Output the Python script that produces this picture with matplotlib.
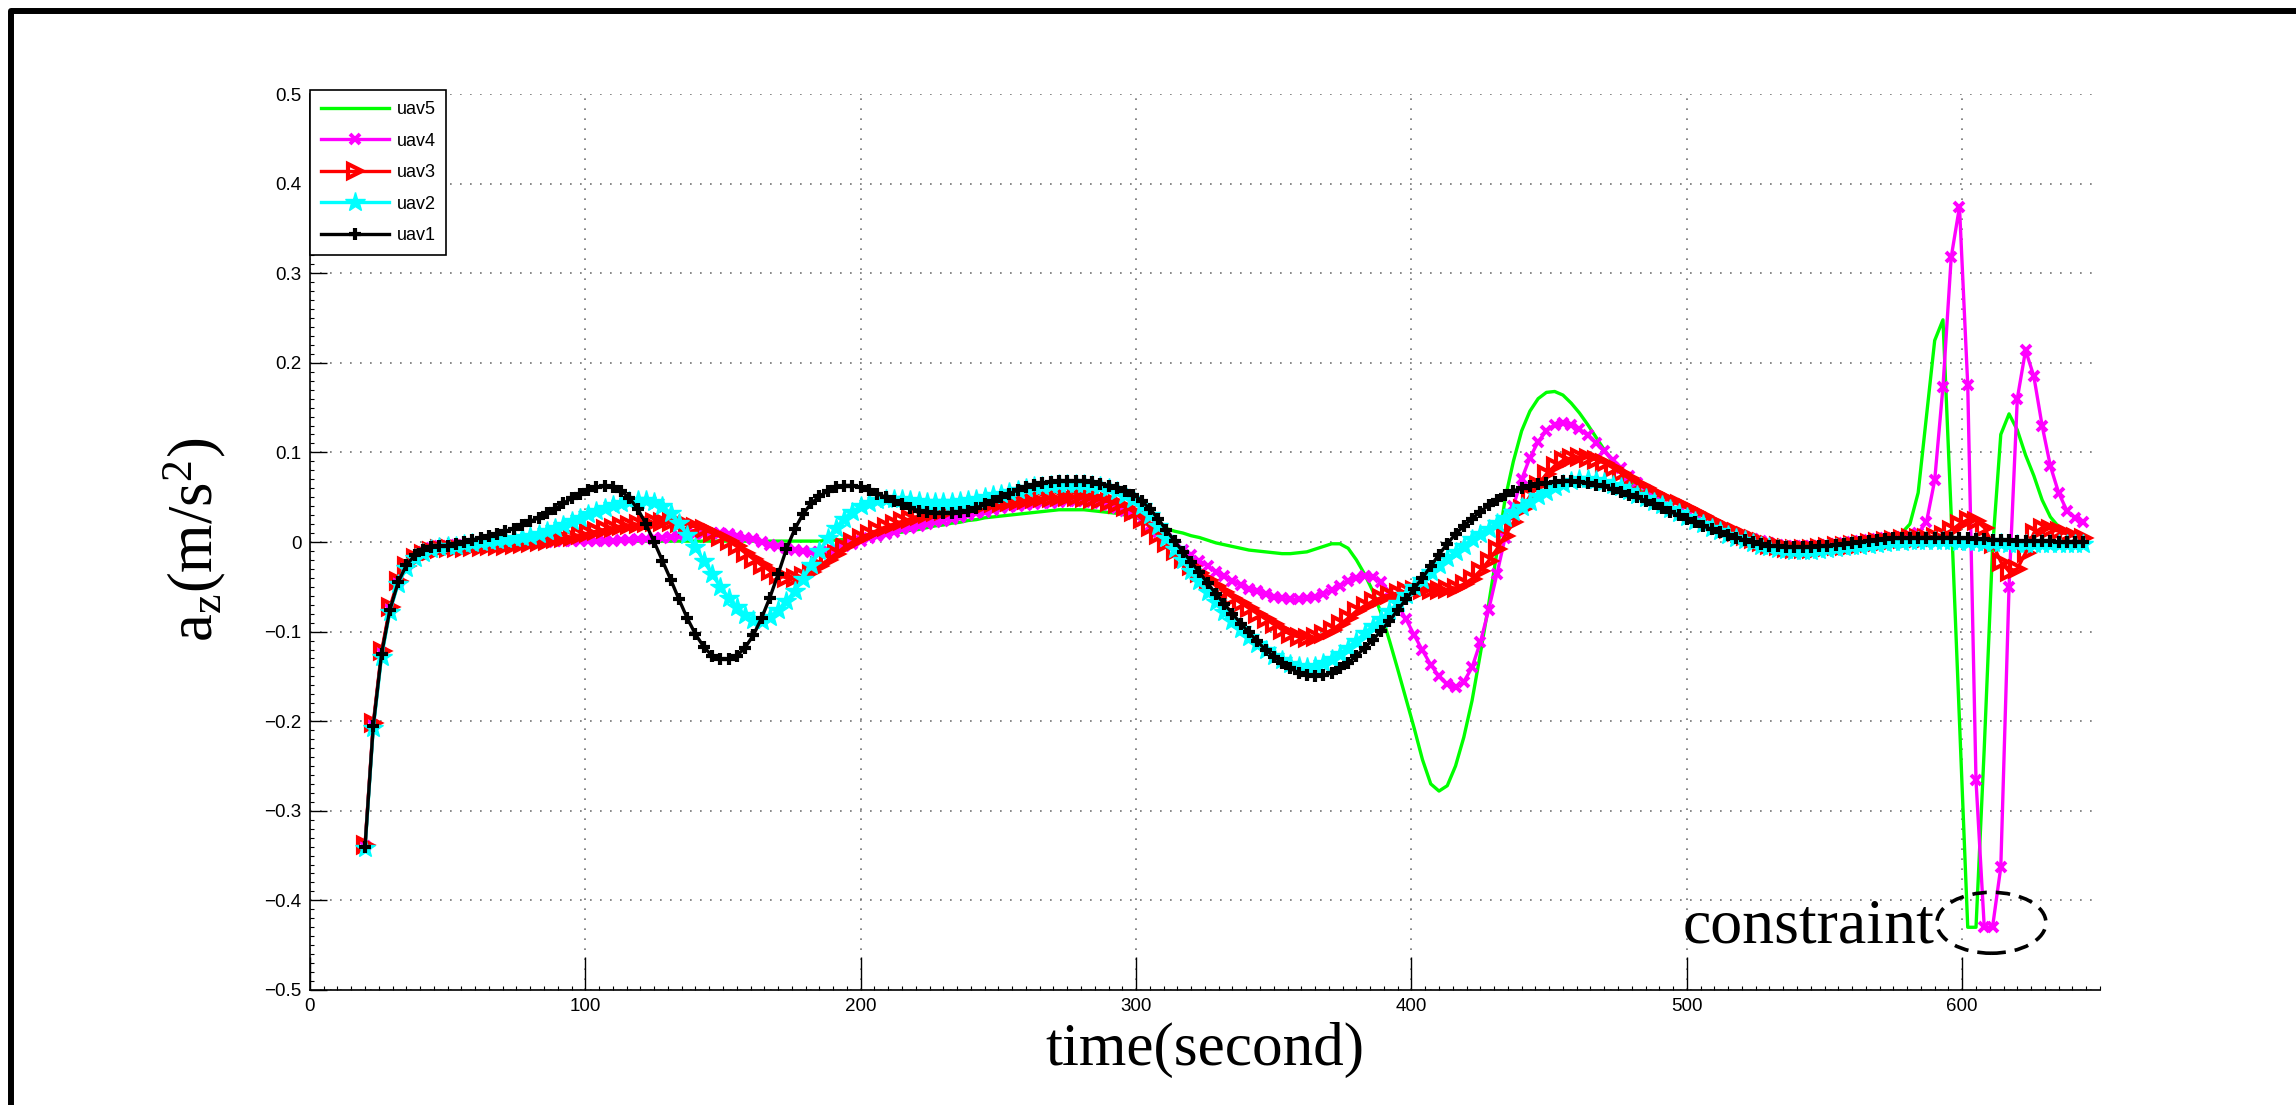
import numpy as np
import matplotlib
matplotlib.use("Agg")
import matplotlib.pyplot as plt
from matplotlib.patches import Ellipse
from matplotlib.lines import Line2D
from matplotlib.ticker import MultipleLocator, FixedLocator

plt.rcParams['font.family'] = ['Liberation Sans', 'DejaVu Sans']
plt.rcParams['mathtext.fontset'] = 'custom'
plt.rcParams['mathtext.rm'] = 'Liberation Serif'
plt.rcParams['mathtext.it'] = 'Liberation Serif:italic'

# sample times (s), one sample every 3 s
t = np.arange(20, 645, 3)

uav1 = [
    -0.340, -0.205, -0.125, -0.076, -0.045, -0.026, -0.015, -0.009, -0.006, -0.004,
    -0.004, -0.002, 0.000, 0.002, 0.005, 0.007, 0.009, 0.012, 0.015, 0.019,
    0.023, 0.027, 0.032, 0.037, 0.043, 0.049, 0.054, 0.058, 0.061, 0.062,
    0.061, 0.057, 0.049, 0.037, 0.020, 0.000, -0.021, -0.042, -0.064, -0.085,
    -0.103, -0.117, -0.127, -0.131, -0.131, -0.127, -0.118, -0.104, -0.085, -0.062,
    -0.036, -0.008, 0.014, 0.031, 0.043, 0.051, 0.057, 0.061, 0.063, 0.063,
    0.061, 0.058, 0.054, 0.050, 0.046, 0.042, 0.038, 0.035, 0.033, 0.032,
    0.032, 0.032, 0.033, 0.035, 0.038, 0.042, 0.046, 0.050, 0.054, 0.058,
    0.061, 0.064, 0.066, 0.067, 0.068, 0.068, 0.068, 0.068, 0.067, 0.065,
    0.063, 0.060, 0.057, 0.053, 0.046, 0.037, 0.026, 0.013, 0.001, -0.011,
    -0.022, -0.034, -0.046, -0.058, -0.069, -0.080, -0.091, -0.101, -0.111, -0.120,
    -0.128, -0.135, -0.141, -0.146, -0.149, -0.150, -0.149, -0.146, -0.141, -0.135,
    -0.127, -0.118, -0.109, -0.099, -0.088, -0.076, -0.064, -0.052, -0.040, -0.027,
    -0.014, -0.002, 0.009, 0.018, 0.026, 0.034, 0.041, 0.047, 0.052, 0.057,
    0.060, 0.063, 0.065, 0.066, 0.067, 0.068, 0.068, 0.067, 0.066, 0.064,
    0.062, 0.059, 0.056, 0.053, 0.050, 0.046, 0.042, 0.038, 0.034, 0.030,
    0.026, 0.022, 0.018, 0.014, 0.011, 0.008, 0.005, 0.002, 0.000, -0.002,
    -0.004, -0.005, -0.006, -0.006, -0.006, -0.006, -0.005, -0.004, -0.003, -0.002,
    -0.001, 0.000, 0.001, 0.002, 0.003, 0.004, 0.004, 0.005, 0.005, 0.005,
    0.005, 0.005, 0.005, 0.004, 0.004, 0.003, 0.003, 0.002, 0.002, 0.002,
    0.001, 0.001, 0.001, 0.001, 0.001, 0.000, 0.000, 0.000, 0.000,
]

uav2 = [
    -0.342, -0.208, -0.128, -0.078, -0.047, -0.029, -0.018, -0.012, -0.008, -0.006,
    -0.005, -0.004, -0.002, -0.001, 0.000, 0.001, 0.002, 0.003, 0.004, 0.006,
    0.007, 0.009, 0.012, 0.016, 0.019, 0.023, 0.027, 0.031, 0.035, 0.038,
    0.041, 0.044, 0.046, 0.047, 0.047, 0.045, 0.040, 0.032, 0.021, 0.008,
    -0.006, -0.021, -0.036, -0.050, -0.062, -0.073, -0.082, -0.087, -0.088, -0.084,
    -0.076, -0.066, -0.055, -0.041, -0.026, -0.010, 0.004, 0.016, 0.026, 0.034,
    0.040, 0.044, 0.047, 0.048, 0.048, 0.048, 0.047, 0.046, 0.045, 0.045,
    0.045, 0.045, 0.046, 0.047, 0.048, 0.050, 0.052, 0.054, 0.056, 0.058,
    0.060, 0.062, 0.063, 0.064, 0.065, 0.065, 0.065, 0.065, 0.064, 0.062,
    0.060, 0.057, 0.053, 0.048, 0.040, 0.030, 0.018, 0.005, -0.008, -0.020,
    -0.032, -0.044, -0.056, -0.067, -0.078, -0.088, -0.097, -0.106, -0.114, -0.121,
    -0.127, -0.132, -0.136, -0.138, -0.139, -0.138, -0.135, -0.131, -0.125, -0.118,
    -0.110, -0.102, -0.094, -0.086, -0.077, -0.068, -0.059, -0.050, -0.042, -0.034,
    -0.026, -0.018, -0.011, -0.004, 0.003, 0.009, 0.015, 0.021, 0.027, 0.033,
    0.039, 0.045, 0.051, 0.056, 0.061, 0.065, 0.068, 0.070, 0.070, 0.069,
    0.067, 0.064, 0.061, 0.057, 0.053, 0.049, 0.045, 0.041, 0.037, 0.032,
    0.028, 0.024, 0.020, 0.016, 0.012, 0.008, 0.005, 0.002, -0.001, -0.004,
    -0.006, -0.008, -0.009, -0.010, -0.010, -0.010, -0.009, -0.008, -0.007, -0.006,
    -0.005, -0.004, -0.003, -0.002, -0.001, 0.000, 0.000, 0.001, 0.001, 0.001,
    0.001, 0.001, 0.001, 0.000, 0.000, 0.000, -0.001, -0.001, -0.001, -0.002,
    -0.002, -0.002, -0.002, -0.002, -0.002, -0.002, -0.002, -0.002, -0.002,
]

uav3 = [
    -0.338, -0.202, -0.122, -0.073, -0.043, -0.027, -0.018, -0.013, -0.010, -0.008,
    -0.007, -0.007, -0.007, -0.006, -0.006, -0.005, -0.005, -0.004, -0.003, -0.002,
    -0.001, 0.000, 0.001, 0.003, 0.004, 0.006, 0.008, 0.010, 0.012, 0.014,
    0.016, 0.018, 0.019, 0.020, 0.021, 0.022, 0.022, 0.022, 0.021, 0.019,
    0.017, 0.014, 0.010, 0.006, 0.001, -0.005, -0.012, -0.019, -0.026, -0.032,
    -0.037, -0.040, -0.040, -0.038, -0.033, -0.027, -0.020, -0.013, -0.006, 0.000,
    0.005, 0.009, 0.013, 0.017, 0.020, 0.023, 0.026, 0.029, 0.031, 0.033,
    0.035, 0.037, 0.039, 0.040, 0.041, 0.042, 0.043, 0.044, 0.045, 0.046,
    0.047, 0.048, 0.049, 0.049, 0.050, 0.050, 0.050, 0.049, 0.048, 0.047,
    0.045, 0.042, 0.039, 0.034, 0.026, 0.017, 0.008, -0.001, -0.010, -0.019,
    -0.027, -0.035, -0.042, -0.049, -0.056, -0.062, -0.068, -0.074, -0.080, -0.086,
    -0.092, -0.098, -0.103, -0.106, -0.107, -0.106, -0.103, -0.098, -0.092, -0.085,
    -0.077, -0.071, -0.066, -0.062, -0.059, -0.057, -0.055, -0.054, -0.054, -0.054,
    -0.054, -0.053, -0.051, -0.047, -0.041, -0.032, -0.021, -0.008, 0.007, 0.022,
    0.037, 0.051, 0.064, 0.076, 0.085, 0.091, 0.094, 0.095, 0.094, 0.092,
    0.088, 0.083, 0.077, 0.071, 0.065, 0.060, 0.055, 0.050, 0.046, 0.042,
    0.038, 0.033, 0.029, 0.024, 0.019, 0.015, 0.011, 0.007, 0.003, 0.000,
    -0.003, -0.005, -0.007, -0.008, -0.008, -0.008, -0.007, -0.006, -0.005, -0.004,
    -0.003, -0.002, -0.001, 0.000, 0.001, 0.002, 0.003, 0.004, 0.004, 0.005,
    0.006, 0.008, 0.013, 0.020, 0.025, 0.024, 0.016, -0.002, -0.022, -0.033,
    -0.030, -0.012, 0.010, 0.016, 0.015, 0.012, 0.009, 0.006, 0.004,
]

uav4 = [
    -0.339, -0.204, -0.124, -0.075, -0.045, -0.027, -0.017, -0.011, -0.007, -0.005,
    -0.004, -0.003, -0.003, -0.002, -0.002, -0.001, -0.001, 0.000, 0.000, 0.000,
    0.000, 0.000, 0.000, 0.001, 0.001, 0.001, 0.001, 0.001, 0.001, 0.001,
    0.001, 0.002, 0.002, 0.003, 0.003, 0.004, 0.005, 0.006, 0.007, 0.008,
    0.009, 0.010, 0.010, 0.010, 0.009, 0.007, 0.005, 0.003, 0.000, -0.003,
    -0.005, -0.007, -0.009, -0.010, -0.011, -0.011, -0.010, -0.008, -0.005, -0.002,
    0.001, 0.004, 0.007, 0.009, 0.011, 0.014, 0.016, 0.018, 0.020, 0.022,
    0.024, 0.026, 0.028, 0.030, 0.032, 0.034, 0.036, 0.038, 0.039, 0.040,
    0.041, 0.042, 0.043, 0.044, 0.045, 0.046, 0.046, 0.046, 0.045, 0.043,
    0.041, 0.038, 0.035, 0.031, 0.025, 0.018, 0.011, 0.004, -0.003, -0.009,
    -0.015, -0.021, -0.027, -0.033, -0.038, -0.043, -0.048, -0.052, -0.055, -0.058,
    -0.061, -0.063, -0.064, -0.064, -0.063, -0.061, -0.058, -0.054, -0.049, -0.044,
    -0.040, -0.038, -0.039, -0.045, -0.056, -0.070, -0.086, -0.104, -0.121, -0.137,
    -0.150, -0.159, -0.162, -0.156, -0.140, -0.112, -0.076, -0.036, 0.005, 0.040,
    0.070, 0.094, 0.112, 0.124, 0.131, 0.133, 0.131, 0.126, 0.119, 0.111,
    0.102, 0.092, 0.083, 0.074, 0.066, 0.058, 0.051, 0.045, 0.039, 0.034,
    0.030, 0.026, 0.022, 0.018, 0.015, 0.012, 0.009, 0.006, 0.003, 0.001,
    -0.001, -0.003, -0.004, -0.005, -0.005, -0.005, -0.004, -0.003, -0.002, -0.001,
    0.000, 0.001, 0.002, 0.003, 0.004, 0.005, 0.006, 0.007, 0.010, 0.022,
    0.069, 0.173, 0.318, 0.374, 0.175, -0.266, -0.430, -0.430, -0.363, -0.050,
    0.160, 0.214, 0.185, 0.130, 0.085, 0.055, 0.035, 0.027, 0.022,
]

uav5 = [
    -0.340, -0.205, -0.125, -0.076, -0.045, -0.027, -0.016, -0.010, -0.006, -0.004,
    -0.003, -0.002, -0.002, -0.001, -0.001, 0.000, 0.000, 0.000, 0.000, 0.000,
    0.000, 0.000, 0.000, 0.000, 0.001, 0.001, 0.001, 0.001, 0.001, 0.001,
    0.001, 0.001, 0.001, 0.001, 0.001, 0.001, 0.001, 0.001, 0.001, 0.001,
    0.001, 0.001, 0.001, 0.001, 0.001, 0.001, 0.001, 0.001, 0.001, 0.001,
    0.001, 0.001, 0.001, 0.001, 0.001, 0.001, 0.002, 0.002, 0.003, 0.004,
    0.005, 0.006, 0.007, 0.008, 0.010, 0.011, 0.013, 0.014, 0.016, 0.018,
    0.019, 0.021, 0.022, 0.024, 0.025, 0.027, 0.028, 0.029, 0.030, 0.031,
    0.032, 0.033, 0.034, 0.035, 0.036, 0.036, 0.036, 0.036, 0.035, 0.034,
    0.033, 0.032, 0.030, 0.028, 0.025, 0.021, 0.018, 0.015, 0.012, 0.010,
    0.007, 0.005, 0.002, -0.001, -0.003, -0.005, -0.007, -0.009, -0.010, -0.011,
    -0.012, -0.013, -0.013, -0.012, -0.011, -0.008, -0.005, -0.002, -0.002, -0.007,
    -0.020, -0.036, -0.055, -0.080, -0.110, -0.142, -0.175, -0.208, -0.243, -0.270,
    -0.278, -0.272, -0.250, -0.218, -0.177, -0.125, -0.070, -0.012, 0.048, 0.090,
    0.124, 0.146, 0.160, 0.167, 0.168, 0.164, 0.155, 0.144, 0.131, 0.117,
    0.103, 0.090, 0.078, 0.068, 0.060, 0.053, 0.047, 0.042, 0.037, 0.033,
    0.029, 0.025, 0.021, 0.018, 0.015, 0.012, 0.009, 0.006, 0.003, 0.001,
    -0.001, -0.003, -0.004, -0.005, -0.005, -0.005, -0.004, -0.003, -0.002, -0.001,
    0.000, 0.001, 0.002, 0.003, 0.004, 0.006, 0.010, 0.020, 0.055, 0.140,
    0.225, 0.248, 0.030, -0.200, -0.430, -0.430, -0.230, -0.008, 0.120, 0.143,
    0.125, 0.097, 0.074, 0.047, 0.028, 0.017, 0.010, 0.007, 0.005,
]

xticks = [0, 100, 200, 300, 400, 500, 600]
yticks = [-0.5, -0.4, -0.3, -0.2, -0.1, 0, 0.1, 0.2, 0.3, 0.4, 0.5]
ytick_labels = ['\u22120.5', '\u22120.4', '\u22120.3', '\u22120.2', '\u22120.1', '0',
                '0.1', '0.2', '0.3', '0.4', '0.5']

fig = plt.figure(figsize=(22.96, 11.05), dpi=100)
ax = fig.add_axes([0.135, 0.1041, 0.7796, 0.8108])

lw = 2.4
ax.plot(t, uav5, '-', color=(0, 1, 0), lw=lw, label='uav5')
ax.plot(t, uav4, '-', color=(1, 0, 1), lw=lw, marker='x', ms=6.5, mew=2.8, label='uav4')
ax.plot(t, uav3, '-', color=(1, 0, 0), lw=lw, marker='>', ms=10.5, mew=3,
        mfc='none', label='uav3')
ax.plot(t, uav2, '-', color=(0, 1, 1), lw=lw, marker='*', ms=15, mew=1, label='uav2')
ax.plot(t, uav1, '-', color='black', lw=lw, marker='+', ms=9, mew=3, label='uav1')

ax.set_xlim(0, 650)
ax.set_ylim(-0.5, 0.5)
ax.xaxis.set_major_locator(FixedLocator(xticks))
ax.yaxis.set_major_locator(FixedLocator(yticks))
ax.set_yticklabels(ytick_labels)
ax.xaxis.set_minor_locator(MultipleLocator(5))
ax.yaxis.set_minor_locator(MultipleLocator(0.01))
ax.tick_params(axis='both', which='major', direction='in', labelsize=13.5, pad=6,
               width=1)
ax.tick_params(axis='x', which='major', length=24)
ax.tick_params(axis='y', which='major', length=12)
ax.tick_params(axis='both', which='minor', direction='in', length=3, width=0.8)

ax.grid(True, which='major', color='0.45', linestyle=(0, (1, 5)), linewidth=1.2)
ax.spines['top'].set_visible(False)
ax.spines['right'].set_visible(False)
ax.spines['left'].set_linewidth(1.2)
ax.spines['bottom'].set_linewidth(1.2)

ax.set_xlabel('time(second)', fontsize=44, family='Liberation Serif')
ax.xaxis.set_label_coords(0.5, -0.036)
fig.text(195 / 2296, 1 - 540 / 1105, r'$\mathrm{a_z(m/s^2)}$', rotation=90,
         ha='center', va='center', fontsize=45)

leg = ax.legend(loc='upper left', bbox_to_anchor=(0.0, 1.004), borderaxespad=0,
                fontsize=13, numpoints=1, handlelength=3.8, handletextpad=0.4,
                labelspacing=0.8, borderpad=0.6, fancybox=False, framealpha=1)
leg.get_frame().set_edgecolor('black')
leg.get_frame().set_linewidth(1.2)

ax.text(498.5, -0.447, 'constraint', fontsize=46, family='Liberation Serif',
        ha='left', va='baseline')
ax.add_patch(Ellipse((610.6, -0.425), width=39.6, height=0.068, fill=False,
                     ec='black', lw=2.6, linestyle=(0, (4, 2.5)), zorder=10))

# outer frame seen round the figure
fig.add_artist(Line2D([11 / 2296, 11 / 2296, 1.01],
                      [-0.01, 1 - 10.5 / 1105, 1 - 10.5 / 1105],
                      transform=fig.transFigure, color='black', lw=4.3))

fig.savefig('out.png', dpi=100)
